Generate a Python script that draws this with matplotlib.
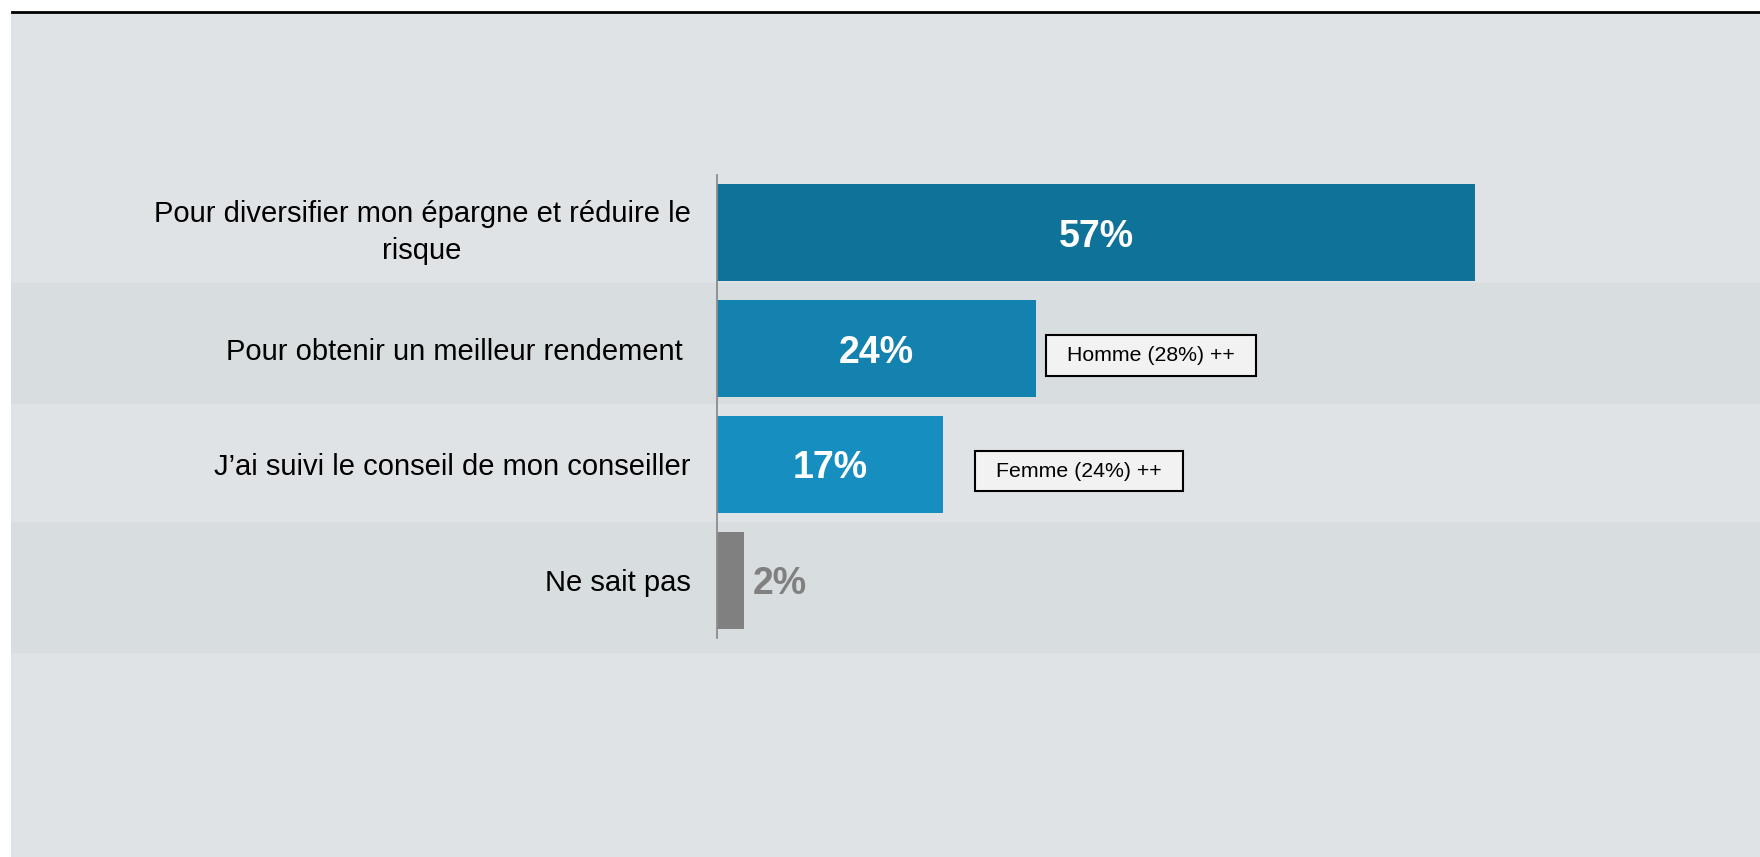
import matplotlib.pyplot as plt
from matplotlib.patches import Rectangle
from matplotlib.path import Path
from matplotlib import transforms

plt.rcParams['font.family'] = ['Liberation Sans', 'DejaVu Sans']

# Reasons given, share of respondents (%)
reasons = [
    'Pour diversifier mon épargne et réduire le\nrisque',
    'Pour obtenir un meilleur rendement ',
    'J’ai suivi le conseil de mon conseiller',
    'Ne sait pas',
]
shares = [57, 24, 17, 2]
bar_colors = ['#0F7298', '#1482AE', '#168EBF', '#808080']

# Sub-group callouts: (row, text, x position in %)
callouts = [
    (1, 'Homme (28%) ++', 32.6),
    (2, 'Femme (24%) ++', 27.2),
]

# shaded rows behind the chart (row bounds)
shaded_rows = [(0.43, 1.48), (2.5, 3.63)]

W, H = 1760, 857
fig = plt.figure(figsize=(W / 100, H / 100), dpi=100, facecolor='white')

# grey panel + black rule along the top
fig.patches.append(Rectangle((11 / W, 0), 1 - 11 / W, 1 - 13 / H,
                             transform=fig.transFigure, facecolor='#DFE3E6',
                             edgecolor='none', zorder=-5))
fig.add_artist(plt.Line2D([12 / W, 1], [1 - 12 / H, 1 - 12 / H],
                          transform=fig.transFigure, color='black', lw=2,
                          zorder=-4))

ax = fig.add_axes([717 / W, 1 - 638 / H, 1 - 717 / W, (638 - 175) / H])
ax.set_facecolor('none')

y = list(range(len(reasons)))

# row shading across the full panel width
blend = transforms.blended_transform_factory(fig.transFigure, ax.transData)
for lo, hi in shaded_rows:
    ax.add_patch(Rectangle((11 / W, lo), 1 - 11 / W, hi - lo, transform=blend,
                           facecolor='#D8DDE0', edgecolor='none',
                           clip_on=False, zorder=0))

ax.barh(y, shares, height=0.84, color=bar_colors, zorder=2)

for i, v in enumerate(shares):
    if v >= 5:
        ax.text(v / 2, i, f'{v}%', ha='center', va='center_baseline',
                color='white', fontsize=27, fontweight='bold', zorder=3)
    else:
        ax.text(v + 0.65, i, f'{v}%', ha='left', va='center_baseline',
                color='#808080', fontsize=27, fontweight='bold', zorder=3)


def wide_box(x0, y0, width, height, mutation_size):
    padx = 1.0 * mutation_size
    pady = 0.5 * mutation_size
    x0, y0 = x0 - padx, y0 - pady
    x1, y1 = x0 + width + 2 * padx, y0 + height + 2 * pady
    return Path([(x0, y0), (x1, y0), (x1, y1), (x0, y1), (x0, y0)],
                closed=True)


for row, txt, xpos in callouts:
    ax.text(xpos, row + 0.06, txt, ha='center', va='center', fontsize=15.3,
            color='black', zorder=4,
            bbox=dict(boxstyle=wide_box, facecolor='#F2F2F2',
                      edgecolor='black', linewidth=1.5))

ax.set_xlim(0, 78.4)
ax.set_ylim(3.5, -0.5)

ax.set_yticks(y)
ax.set_yticklabels(reasons, fontsize=21)
for lab in ax.get_yticklabels():
    if '\n' in lab.get_text():
        lab.set_multialignment('center')
        lab.set_linespacing(1.4)
        lab.set_verticalalignment('center')
ax.tick_params(axis='y', length=0, pad=19)
ax.set_xticks([])

for side in ['top', 'right', 'bottom']:
    ax.spines[side].set_visible(False)
ax.spines['left'].set_color('#8C8C8C')
ax.spines['left'].set_linewidth(1.3)

fig.savefig('out.png', dpi=100, facecolor=fig.get_facecolor())
